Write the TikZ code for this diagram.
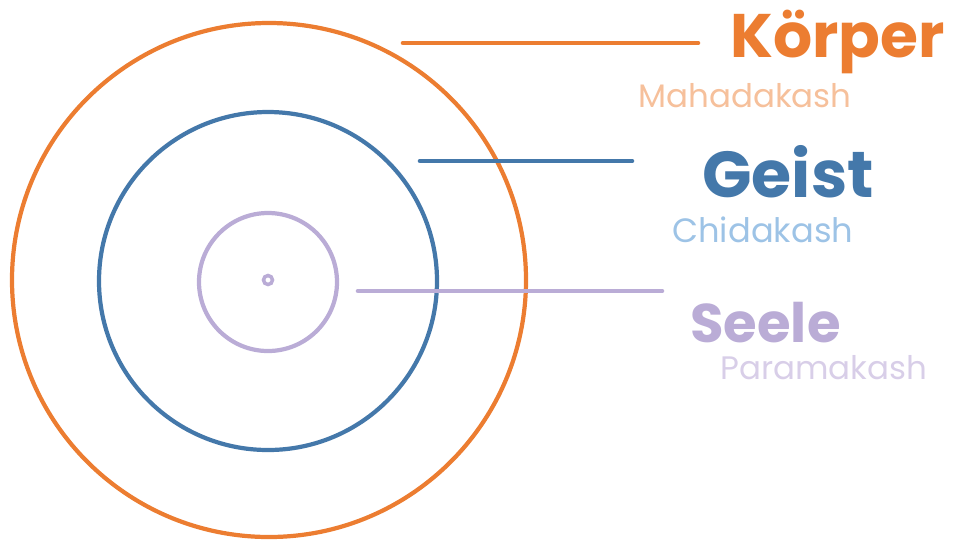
\documentclass[tikz,border=0pt]{standalone}
\usepackage{fontspec}
\setmainfont{Poppins}
\definecolor{korange}{RGB}{236,125,49}
\definecolor{korangel}{RGB}{246,192,155}
\definecolor{kblue}{RGB}{68,120,170}
\definecolor{kbluel}{RGB}{157,195,230}
\definecolor{klav}{RGB}{186,172,214}
\definecolor{klavl}{RGB}{216,206,232}
\begin{document}
\begin{tikzpicture}[x=0.02cm,y=-0.02cm,
  ring/.style={line width=2.4pt},
  leader/.style={line width=2.6pt, line cap=round},
  big/.style={anchor=base west, inner sep=0pt, font=\bfseries\fontsize{35}{40}\selectfont},
  small/.style={anchor=base west, inner sep=0pt, font=\fontsize{18.5}{22}\selectfont}]
\useasboundingbox (0,0) rectangle (956,539);
\draw[ring, korange] (269,280) circle (257);
\draw[ring, kblue] (268,281) circle (169);
\draw[ring, klav] (268,282) circle (69);
\draw[line width=2pt, klav] (268,280) circle (4.5);
% leaders
\coordinate (a1) at (403,43); \coordinate (a2) at (698,43);
\coordinate (b1) at (420,161); \coordinate (b2) at (632,161);
\coordinate (s1) at (358,291); \coordinate (s2) at (662,291);
\draw[leader, korange] (a1) -- (a2);
\draw[leader, kblue] (b1) -- (b2);
\draw[leader, klav] (s1) -- (s2);
% labels
\node[big, text=korange] (koerper) at (730,57) {Körper};
\node[small, text=korangel] (maha) at (638,107) {Mahadakash};
\node[big, text=kblue, font=\bfseries\fontsize{37}{42}\selectfont] (geist) at (702,197) {Geist};
\node[small, text=kbluel, font=\fontsize{19.2}{22}\selectfont] (chida) at (672,242) {Chidakash};
\node[big, text=klav, font=\bfseries\fontsize{31}{36}\selectfont] (seele) at (690,342) {Seele};
\node[small, text=klavl] (param) at (720,379) {Paramakash};
\end{tikzpicture}
\end{document}
